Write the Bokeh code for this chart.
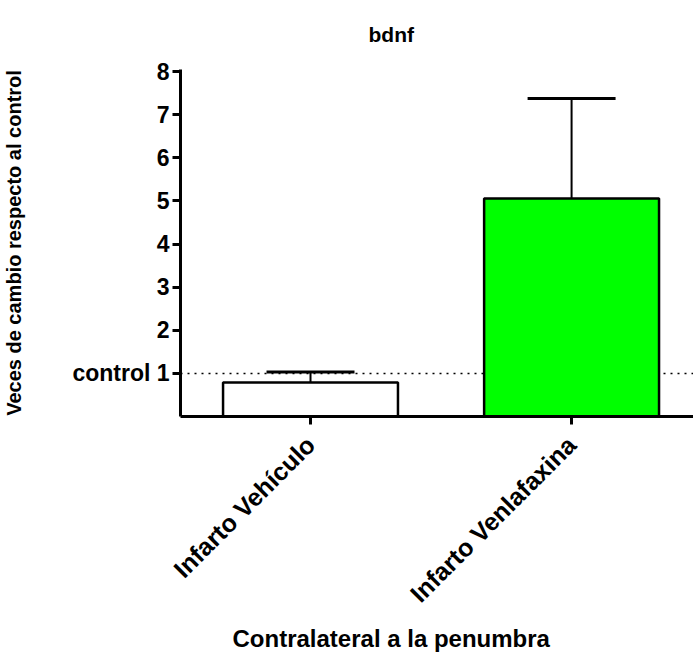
import math

from bokeh.embed import file_html
from bokeh.models import ColumnDataSource, FixedTicker, Range1d, Span, Title
from bokeh.plotting import figure
from bokeh.resources import INLINE

# Fold change of bdnf relative to control (mean and upper error)
groups = ["Infarto Vehículo", "Infarto Venlafaxina"]
means = [0.79, 5.06]
errors = [0.24, 2.32]
colors = ["#FFFFFF", "#00FF00"]
y_ticks = [1, 2, 3, 4, 5, 6, 7, 8]
control_level = 1

FONT = "Liberation Sans"

xs = [i + 1 for i in range(len(groups))]
bar_width = 0.67
cap_width = 0.337

source = ColumnDataSource(dict(
    x=xs,
    top=means,
    err_top=[m + e for m, e in zip(means, errors)],
    cap_left=[x - cap_width / 2 for x in xs],
    cap_right=[x + cap_width / 2 for x in xs],
    color=colors,
))

p = figure(
    width=693, height=661,
    x_range=Range1d(0.502, 2.467),
    y_range=Range1d(0, 8.05),
    output_backend="svg",
    toolbar_location=None,
    min_border_left=180, min_border_right=0,
    min_border_top=68, min_border_bottom=245,
)
p.title.visible = False
p.outline_line_color = None
p.xgrid.visible = False
p.ygrid.visible = False
p.background_fill_color = "white"
p.border_fill_color = "white"

# Dotted reference line at control level, drawn beneath the bars
p.add_layout(Span(location=control_level, dimension="width", line_color="black",
                  line_width=1.5, line_dash="2 5", level="underlay"))

p.vbar(x="x", top="top", width=bar_width, bottom=0, source=source,
       fill_color="color", line_color="black", line_width=2.5)

# Upper error bars
p.segment(x0="x", y0="top", x1="x", y1="err_top", source=source,
          line_color="black", line_width=2)
p.segment(x0="cap_left", y0="err_top", x1="cap_right", y1="err_top", source=source,
          line_color="black", line_width=3)

# Y axis
p.yaxis.ticker = FixedTicker(ticks=y_ticks)
p.yaxis.major_label_overrides = {control_level: "control 1"}
p.yaxis.minor_tick_line_color = None
p.yaxis.major_tick_in = 0
p.yaxis.major_tick_out = 8
p.yaxis.major_tick_line_width = 3
p.yaxis.axis_line_width = 3
p.yaxis.major_label_text_font = FONT
p.yaxis.major_label_text_font_style = "bold"
p.yaxis.major_label_text_font_size = "23px"
p.yaxis.major_label_text_color = "black"
p.yaxis.major_label_standoff = 3
p.yaxis.axis_label = "Veces de cambio respecto al control"
p.yaxis.axis_label_text_font = FONT
p.yaxis.axis_label_text_font_style = "bold"
p.yaxis.axis_label_text_font_size = "20px"
p.yaxis.axis_label_text_color = "black"
p.yaxis.axis_label_standoff = 44

# X axis
p.xaxis.ticker = FixedTicker(ticks=xs)
p.xaxis.major_label_overrides = {x: g for x, g in zip(xs, groups)}
p.xaxis.minor_tick_line_color = None
p.xaxis.major_tick_in = 0
p.xaxis.major_tick_out = 8
p.xaxis.major_tick_line_width = 3
p.xaxis.axis_line_width = 3
p.xaxis.major_label_orientation = math.pi / 4
p.xaxis.major_label_text_font = FONT
p.xaxis.major_label_text_font_style = "bold"
p.xaxis.major_label_text_font_size = "25px"
p.xaxis.major_label_text_color = "black"
p.xaxis.major_label_standoff = 16

# Chart title and x-axis title
p.add_layout(Title(text="bdnf", align="left", offset=188, vertical_align="top",
                   standoff=44, text_font=FONT, text_font_style="bold",
                   text_font_size="21px", text_color="black"), "above")
p.add_layout(Title(text="Contralateral a la penumbra", align="left", offset=52,
                   vertical_align="top", standoff=8, text_font=FONT,
                   text_font_style="bold", text_font_size="24px",
                   text_color="black"), "below")

open("out.html", "w").write(file_html(p, INLINE))
